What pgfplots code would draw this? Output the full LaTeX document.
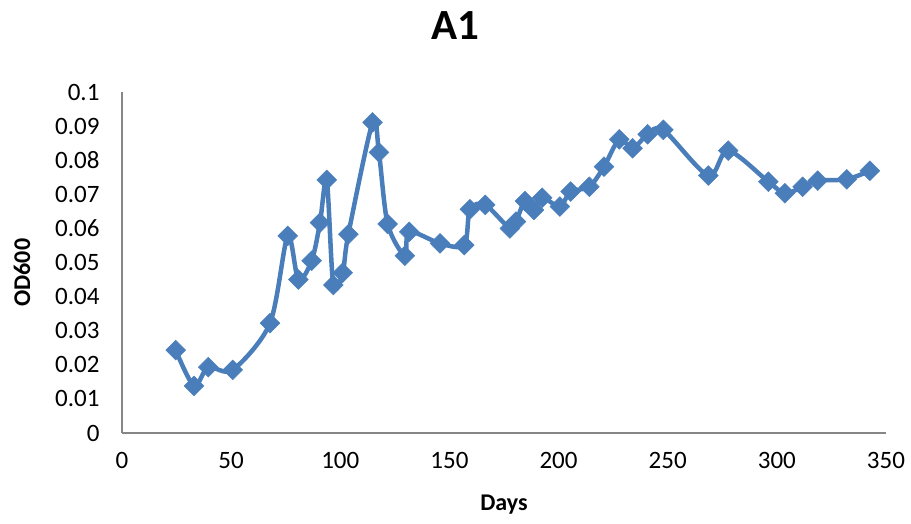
\documentclass[border=0pt]{standalone}
\usepackage{fontspec}
\setmainfont{Carlito}
\usepackage{pgfplots}
\pgfplotsset{compat=1.18}
\definecolor{xlblue}{HTML}{4A7EBB}
\definecolor{xlgray}{HTML}{868686}
\begin{document}
\begin{tikzpicture}
\path[use as bounding box] (0,0) rectangle (911pt,523pt);
\begin{axis}[
  at={(122pt,90pt)}, anchor=south west,
  scale only axis, width=764pt, height=341pt,
  xmin=0, xmax=350, ymin=0, ymax=0.1,
  xtick={0,50,100,150,200,250,300,350},
  ytick={0,0.01,0.02,0.03,0.04,0.05,0.06,0.07,0.08,0.09,0.1},
  yticklabels={0,0.01,0.02,0.03,0.04,0.05,0.06,0.07,0.08,0.09,0.1},
  axis x line=bottom, axis y line=left,
  axis line style={xlgray, line width=2pt, -},
  major tick length=0pt,
  /pgf/number format/assume math mode=true,
  tick label style={font=\fontsize{25}{29}\selectfont, text=black},
  xticklabel style={yshift=-16pt},
  yticklabel style={xshift=-19pt},
  xlabel={Days}, ylabel={OD600},
  label style={font=\fontsize{24}{28}\selectfont\bfseries},
  xlabel style={at={(axis description cs:0.5,-0.211)}, anchor=center},
  ylabel style={at={(axis description cs:-0.131,0.47)}, anchor=center},
  title={A1},
  title style={font=\fontsize{43}{50}\selectfont\bfseries, at={(axis description cs:0.437,1)}, anchor=base, yshift=46pt},
  clip=false,
]
\addplot[xlblue, line width=4.5pt, smooth, tension=0.5, mark=square*, mark size=7pt, mark options={rotate=45, line width=0.5pt, fill=xlblue}]
coordinates {
(24.6,0.0243)(33.0,0.0138)(39.5,0.0193)(50.7,0.0185)(67.8,0.0322)
(75.9,0.0578)(80.8,0.0450)(86.9,0.0505)(90.7,0.0617)(93.8,0.0742)
(96.8,0.0434)(101.1,0.0470)(103.7,0.0583)(114.8,0.0911)(117.7,0.0823)
(121.7,0.0613)(129.6,0.0520)(131.6,0.0590)(145.7,0.0556)(156.8,0.0551)
(159.4,0.0656)(166.4,0.0669)(177.7,0.0600)(180.5,0.0620)(184.6,0.0680)
(188.7,0.0654)(192.5,0.0690)(200.6,0.0664)(205.5,0.0708)(214.1,0.0722)
(220.8,0.0781)(227.8,0.0861)(233.9,0.0835)(240.8,0.0876)(248.0,0.0889)
(268.6,0.0755)(277.7,0.0828)(296.1,0.0737)(303.7,0.0703)(311.8,0.0722)
(318.7,0.0740)(332.0,0.0744)(342.6,0.0769)
};
\end{axis}
\end{tikzpicture}
\end{document}
